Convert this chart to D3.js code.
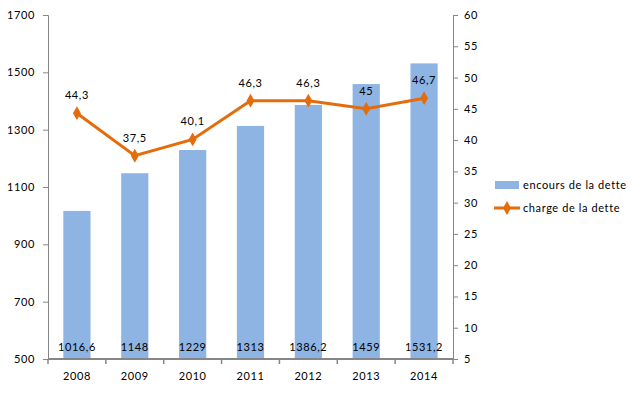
<!DOCTYPE html>
<html>
<head>
<meta charset="utf-8">
<script src="https://cdn.jsdelivr.net/npm/d3@7"></script>
<style>
  body { margin: 0; background: #fff; }
  text { font-family: Lato, "Liberation Sans", sans-serif; font-size: 11px; fill: #000; letter-spacing: 0.6px; }
</style>
</head>
<body>
<div id="chart"></div>
<script>
// data
var years = ["2008", "2009", "2010", "2011", "2012", "2013", "2014"]
var encours = [1016.6, 1148, 1229, 1313, 1386.2, 1459, 1531.2]
var charge = [44.3, 37.5, 40.1, 46.3, 46.3, 45, 46.7]
var leftTicks = [500, 700, 900, 1100, 1300, 1500, 1700]
var rightTicks = [5, 10, 15, 20, 25, 30, 35, 40, 45, 50, 55, 60]
var seriesNames = ["encours de la dette", "charge de la dette"]

var config = {
  width: 640, height: 393,
  left: 48, right: 453, top: 15, bottom: 359,
  barColor: "#8db4e2", lineColor: "#e46c0a", axisColor: "#868686"
}

var fmt = function(v){ return String(v).replace(".", ",") }

var svg = d3.select("#chart").append("svg")
    .attr("width", config.width)
    .attr("height", config.height)

var x = d3.scaleBand().domain(years).range([config.left, config.right]).paddingInner(0.53).paddingOuter(0.265)
var xBand = d3.scaleBand().domain(years).range([config.left, config.right])
var yL = d3.scaleLinear().domain([500, 1700]).range([config.bottom, config.top])
var yR = d3.scaleLinear().domain([5, 60]).range([config.bottom, config.top])

// bars
svg.selectAll(".bar")
    .data(encours)
  .enter().append("rect")
    .attr("class", "bar")
    .attr("x", function(d, i){ return x(years[i]) })
    .attr("width", x.bandwidth())
    .attr("y", function(d){ return yL(d) })
    .attr("height", function(d){ return config.bottom - yL(d) })
    .attr("fill", config.barColor)

svg.selectAll(".bar-label")
    .data(encours)
  .enter().append("text")
    .attr("x", function(d, i){ return xBand(years[i]) + xBand.bandwidth() / 2 })
    .attr("y", config.bottom - 8)
    .attr("text-anchor", "middle")
    .text(fmt)

// left axis
var leftAxis = svg.append("g")
    .attr("transform", "translate(" + config.left + ",0)")
    .call(d3.axisLeft(yL).tickValues(leftTicks).tickSize(5).tickPadding(8).tickFormat(d3.format("d")))
leftAxis.select(".domain").attr("stroke", config.axisColor)
leftAxis.selectAll("line").attr("stroke", config.axisColor)
leftAxis.selectAll("text").style("font-size", "11px")

// right axis
var rightAxis = svg.append("g")
    .attr("transform", "translate(" + config.right + ",0)")
    .call(d3.axisRight(yR).tickValues(rightTicks).tickSize(5).tickPadding(6))
rightAxis.select(".domain").attr("stroke", config.axisColor)
rightAxis.selectAll("line").attr("stroke", config.axisColor)
rightAxis.selectAll("text").style("font-size", "11px")

// bottom axis: ticks on band boundaries
var bottom = svg.append("g")
bottom.append("line")
    .attr("x1", config.left).attr("x2", config.right)
    .attr("y1", config.bottom).attr("y2", config.bottom)
    .attr("stroke", config.axisColor).attr("stroke-width", 2)
bottom.selectAll(".xtick")
    .data(years.concat(["end"]))
  .enter().append("line")
    .attr("x1", function(d, i){ return config.left + i * xBand.bandwidth() })
    .attr("x2", function(d, i){ return config.left + i * xBand.bandwidth() })
    .attr("y1", config.bottom).attr("y2", config.bottom + 5)
    .attr("stroke", config.axisColor).attr("stroke-width", 1.5)
bottom.selectAll(".xlabel")
    .data(years)
  .enter().append("text")
    .attr("x", function(d){ return xBand(d) + xBand.bandwidth() / 2 })
    .attr("y", config.bottom + 21)
    .attr("text-anchor", "middle")
    .text(function(d){ return d })

// line series
var line = d3.line()
    .x(function(d, i){ return xBand(years[i]) + xBand.bandwidth() / 2 })
    .y(function(d){ return yR(d) })

svg.append("path")
    .datum(charge)
    .attr("d", line)
    .attr("fill", "none")
    .attr("stroke", config.lineColor)
    .attr("stroke-width", 3)

var diamond = d3.symbol().type(d3.symbolDiamond).size(55)
svg.selectAll(".pt")
    .data(charge)
  .enter().append("path")
    .attr("d", diamond)
    .attr("transform", function(d, i){
      return "translate(" + (xBand(years[i]) + xBand.bandwidth() / 2) + "," + yR(d) + ")"
    })
    .attr("fill", config.lineColor)

svg.selectAll(".pt-label")
    .data(charge)
  .enter().append("text")
    .attr("x", function(d, i){ return xBand(years[i]) + xBand.bandwidth() / 2 })
    .attr("y", function(d){ return yR(d) - 14 })
    .attr("text-anchor", "middle")
    .text(fmt)

// legend
var legend = svg.append("g").attr("transform", "translate(495,0)")
legend.append("rect")
    .attr("x", 0).attr("y", 181).attr("width", 24).attr("height", 8)
    .attr("fill", config.barColor)
legend.append("text").attr("x", 28).attr("y", 189).text(seriesNames[0])
legend.append("line")
    .attr("x1", -1).attr("x2", 25).attr("y1", 208).attr("y2", 208)
    .attr("stroke", config.lineColor).attr("stroke-width", 3)
legend.append("path")
    .attr("d", diamond)
    .attr("transform", "translate(12,208)")
    .attr("fill", config.lineColor)
legend.append("text").attr("x", 28).attr("y", 212).text(seriesNames[1])
</script>
</body>
</html>
